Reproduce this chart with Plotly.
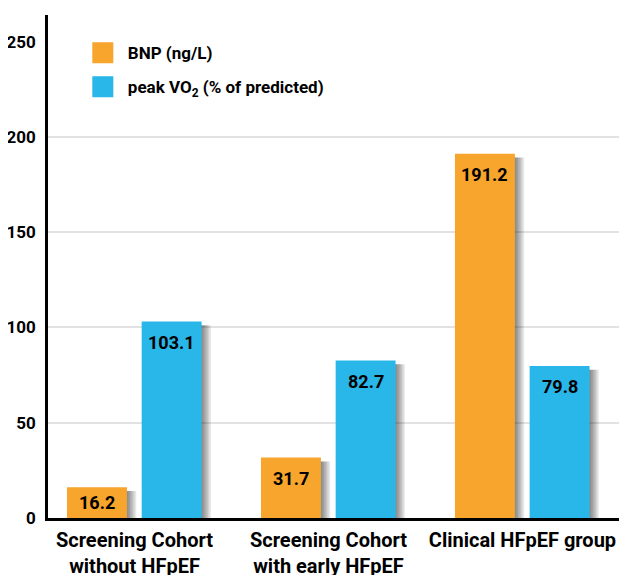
import plotly.graph_objects as go

categories = ["Screening Cohort<br>without HFpEF", "Screening Cohort<br>with early HFpEF", "Clinical HFpEF group"]
bnp = [16.2, 31.7, 191.2]
vo2 = [103.1, 82.7, 79.8]
series_names = ["BNP (ng/L)", "peak VO<sub>2</sub> (% of predicted)"]
y_ticks = [0, 50, 100, 150, 200, 250]
grid_vals = [50, 100, 150, 200]

ORANGE = "#F7A52C"
BLUE = "#29B6E9"
FONT = "Roboto, Liberation Sans, sans-serif"

bar_w = 0.309
offsets = [-0.348, 0.037]
series = [bnp, vo2]
colors = [ORANGE, BLUE]

fig = go.Figure()

# soft drop shadows
for vals, off in zip(series, offsets):
    for k in range(1, 7):
        fig.add_trace(go.Bar(
            x=categories, y=[v - 2 for v in vals], width=bar_w, offset=off + k * 0.008,
            marker=dict(color="rgba(0,0,0,0.09)", line=dict(width=0)),
            showlegend=False, hoverinfo="skip"))

for vals, off, col, name in zip(series, offsets, colors, series_names):
    fig.add_trace(go.Bar(
        x=categories, y=vals, width=bar_w, offset=off, name=name,
        marker=dict(color=col, line=dict(width=0)), showlegend=False))

# legend entries
for i, (col, name) in enumerate(zip(colors, series_names)):
    fig.add_trace(go.Scatter(
        x=[None], y=[None], mode="markers", name=name, legendgroup=f"g{i}",
        marker=dict(symbol="square", size=16, color=col, line=dict(color=col, width=5))))

annotations = []
for vals, off in zip(series, offsets):
    for i, v in enumerate(vals):
        annotations.append(dict(
            x=i + off + bar_w / 2, y=max(v - 11, v / 2), xref="x", yref="y",
            text=f"{v:.1f}", showarrow=False, yanchor="middle", xanchor="center",
            font=dict(family=FONT, size=18, color="black", weight="bold")))

fig.update_layout(
    width=627, height=575,
    margin=dict(l=40, r=8, t=7, b=65),
    paper_bgcolor="white", plot_bgcolor="white",
    barmode="overlay",
    font=dict(family=FONT, color="black", weight="bold"),
    showlegend=True,
    legend=dict(x=0.0515, y=0.96, xanchor="left", yanchor="top",
                font=dict(family=FONT, size=17, color="black", weight="bold"),
                itemwidth=40, tracegroupgap=9, bgcolor="rgba(0,0,0,0)"),
    annotations=annotations,
    xaxis=dict(type="category", range=[-0.446, 2.539], showline=True, linecolor="black",
               linewidth=2.5, ticks="", showgrid=False, zeroline=False,
               tickangle=0, automargin=False, ticklabelstandoff=2,
               tickfont=dict(family=FONT, size=20, color="black", weight="bold")),
    yaxis=dict(range=[0, 264], tickvals=y_ticks, showline=True, linecolor="black",
               linewidth=2.5, ticks="", showgrid=False, zeroline=False,
               ticklabelstandoff=6, automargin=False,
               tickfont=dict(family=FONT, size=17, color="black", weight="bold"),
               minor=dict(tickmode="array", tickvals=grid_vals, showgrid=True,
                          gridcolor="#e2e2e2", gridwidth=1.5, ticks="")),
)

fig.write_html("out.html")
